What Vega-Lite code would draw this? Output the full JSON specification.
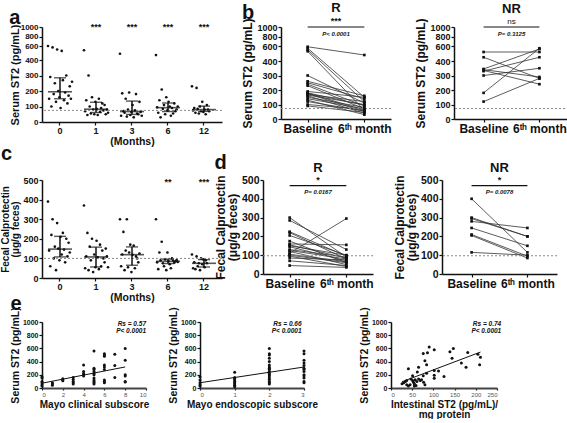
{
"$schema":"https://vega.github.io/schema/vega-lite/v6.json",
"background":"white",
"padding":{"left":0,"top":2,"right":0,"bottom":0},
"config":{"font":"Liberation Sans","view":{"stroke":null},
"axis":{"grid":false,"domainColor":"#111","domainWidth":1.5,"tickColor":"#111","tickWidth":1.2,"tickSize":3,"labelColor":"#111","titleColor":"#111","labelFontWeight":"bold","titleFontWeight":"bold","labelPadding":1,"titlePadding":2},
"title":{"fontWeight":"bold","color":"#111"}},
"datasets":{
"st2":[{"m":0,"v":600},{"m":0,"v":150},{"m":0,"v":290},{"m":0,"v":100},{"m":0,"v":580},{"m":0,"v":180},{"m":0,"v":250},{"m":0,"v":130},{"m":0,"v":550},{"m":0,"v":200},{"m":0,"v":160},{"m":0,"v":90},{"m":0,"v":530},{"m":0,"v":270},{"m":0,"v":140},{"m":0,"v":190},{"m":0,"v":300},{"m":0,"v":120},{"m":0,"v":170},{"m":0,"v":230},{"m":0,"v":150},{"m":0,"v":260},
{"m":1,"v":540},{"m":1,"v":70},{"m":1,"v":140},{"m":1,"v":45},{"m":1,"v":300},{"m":1,"v":100},{"m":1,"v":55},{"m":1,"v":160},{"m":1,"v":80},{"m":1,"v":50},{"m":1,"v":130},{"m":1,"v":85},{"m":1,"v":45},{"m":1,"v":150},{"m":1,"v":65},{"m":1,"v":90},{"m":1,"v":120},{"m":1,"v":75},{"m":1,"v":110},{"m":1,"v":50},{"m":1,"v":80},{"m":1,"v":60},
{"m":3,"v":490},{"m":3,"v":40},{"m":3,"v":185},{"m":3,"v":70},{"m":3,"v":60},{"m":3,"v":150},{"m":3,"v":35},{"m":3,"v":80},{"m":3,"v":190},{"m":3,"v":45},{"m":3,"v":65},{"m":3,"v":110},{"m":3,"v":30},{"m":3,"v":75},{"m":3,"v":180},{"m":3,"v":55},{"m":3,"v":50},{"m":3,"v":130},{"m":3,"v":65},{"m":3,"v":40},
{"m":6,"v":470},{"m":6,"v":95},{"m":6,"v":60},{"m":6,"v":140},{"m":6,"v":30},{"m":6,"v":210},{"m":6,"v":85},{"m":6,"v":110},{"m":6,"v":50},{"m":6,"v":160},{"m":6,"v":75},{"m":6,"v":130},{"m":6,"v":100},{"m":6,"v":40},{"m":6,"v":90},{"m":6,"v":55},{"m":6,"v":120},{"m":6,"v":70},{"m":6,"v":80},{"m":6,"v":100},
{"m":12,"v":230},{"m":12,"v":75},{"m":12,"v":90},{"m":12,"v":60},{"m":12,"v":220},{"m":12,"v":85},{"m":12,"v":55},{"m":12,"v":100},{"m":12,"v":70},{"m":12,"v":130},{"m":12,"v":65},{"m":12,"v":80},{"m":12,"v":50},{"m":12,"v":110},{"m":12,"v":80},{"m":12,"v":70}],
"fc":[{"m":0,"v":390},{"m":0,"v":140},{"m":0,"v":60},{"m":0,"v":220},{"m":0,"v":300},{"m":0,"v":100},{"m":0,"v":160},{"m":0,"v":40},{"m":0,"v":280},{"m":0,"v":150},{"m":0,"v":90},{"m":0,"v":210},{"m":0,"v":120},{"m":0,"v":230},{"m":0,"v":145},{"m":0,"v":80},{"m":0,"v":200},{"m":0,"v":110},{"m":0,"v":180},{"m":0,"v":130},
{"m":1,"v":370},{"m":1,"v":50},{"m":1,"v":110},{"m":1,"v":230},{"m":1,"v":40},{"m":1,"v":160},{"m":1,"v":90},{"m":1,"v":200},{"m":1,"v":30},{"m":1,"v":120},{"m":1,"v":55},{"m":1,"v":190},{"m":1,"v":105},{"m":1,"v":45},{"m":1,"v":170},{"m":1,"v":60},{"m":1,"v":140},{"m":1,"v":100},{"m":1,"v":80},{"m":1,"v":150},{"m":1,"v":110},{"m":1,"v":55},
{"m":3,"v":300},{"m":3,"v":60},{"m":3,"v":120},{"m":3,"v":235},{"m":3,"v":40},{"m":3,"v":140},{"m":3,"v":300},{"m":3,"v":55},{"m":3,"v":130},{"m":3,"v":170},{"m":3,"v":30},{"m":3,"v":118},{"m":3,"v":165},{"m":3,"v":50},{"m":3,"v":110},{"m":3,"v":100},{"m":3,"v":80},{"m":3,"v":125},
{"m":6,"v":300},{"m":6,"v":80},{"m":6,"v":45},{"m":6,"v":130},{"m":6,"v":90},{"m":6,"v":185},{"m":6,"v":75},{"m":6,"v":60},{"m":6,"v":95},{"m":6,"v":40},{"m":6,"v":130},{"m":6,"v":85},{"m":6,"v":70},{"m":6,"v":50},{"m":6,"v":100},{"m":6,"v":88},{"m":6,"v":78},{"m":6,"v":85},{"m":6,"v":92},{"m":6,"v":82},
{"m":12,"v":120},{"m":12,"v":50},{"m":12,"v":80},{"m":12,"v":45},{"m":12,"v":110},{"m":12,"v":60},{"m":12,"v":75},{"m":12,"v":40},{"m":12,"v":100},{"m":12,"v":70},{"m":12,"v":95},{"m":12,"v":55},{"m":12,"v":90},{"m":12,"v":75}],
"st2R":[{"id":1,"Baseline":590,"Month6":480},{"id":2,"Baseline":570,"Month6":150},{"id":3,"Baseline":550,"Month6":120},{"id":4,"Baseline":530,"Month6":60},{"id":5,"Baseline":300,"Month6":110},{"id":6,"Baseline":260,"Month6":160},{"id":7,"Baseline":250,"Month6":140},{"id":8,"Baseline":240,"Month6":90},{"id":9,"Baseline":230,"Month6":70},{"id":10,"Baseline":190,"Month6":150},{"id":11,"Baseline":180,"Month6":60},{"id":12,"Baseline":175,"Month6":50},{"id":13,"Baseline":170,"Month6":120},{"id":14,"Baseline":165,"Month6":100},{"id":15,"Baseline":160,"Month6":40},{"id":16,"Baseline":150,"Month6":80},{"id":17,"Baseline":140,"Month6":70},{"id":18,"Baseline":130,"Month6":30},{"id":19,"Baseline":120,"Month6":55},{"id":20,"Baseline":100,"Month6":65},{"id":21,"Baseline":90,"Month6":45},{"id":22,"Baseline":180,"Month6":95}],
"st2NR":[{"id":1,"Baseline":520,"Month6":520},{"id":2,"Baseline":450,"Month6":280},{"id":3,"Baseline":345,"Month6":560},{"id":4,"Baseline":340,"Month6":290},{"id":5,"Baseline":335,"Month6":240},{"id":6,"Baseline":300,"Month6":350},{"id":7,"Baseline":180,"Month6":570},{"id":8,"Baseline":120,"Month6":280},{"id":9,"Baseline":330,"Month6":450}],
"fcR":[{"id":1,"Baseline":300,"Month6":90},{"id":2,"Baseline":285,"Month6":130},{"id":3,"Baseline":225,"Month6":95},{"id":4,"Baseline":220,"Month6":80},{"id":5,"Baseline":205,"Month6":100},{"id":6,"Baseline":175,"Month6":60},{"id":7,"Baseline":160,"Month6":155},{"id":8,"Baseline":155,"Month6":85},{"id":9,"Baseline":145,"Month6":70},{"id":10,"Baseline":130,"Month6":90},{"id":11,"Baseline":120,"Month6":50},{"id":12,"Baseline":110,"Month6":295},{"id":13,"Baseline":105,"Month6":65},{"id":14,"Baseline":95,"Month6":40},{"id":15,"Baseline":85,"Month6":75},{"id":16,"Baseline":70,"Month6":45},{"id":17,"Baseline":45,"Month6":35},{"id":18,"Baseline":150,"Month6":100},{"id":19,"Baseline":100,"Month6":60},{"id":20,"Baseline":125,"Month6":80}],
"fcNR":[{"id":1,"Baseline":400,"Month6":115},{"id":2,"Baseline":300,"Month6":200},{"id":3,"Baseline":295,"Month6":200},{"id":4,"Baseline":280,"Month6":245},{"id":5,"Baseline":245,"Month6":150},{"id":6,"Baseline":210,"Month6":95},{"id":7,"Baseline":205,"Month6":85},{"id":8,"Baseline":115,"Month6":100}],
"clin":[{"s":0,"v":170},{"s":0,"v":150},{"s":0,"v":100},{"s":0,"v":80},{"s":0,"v":50},{"s":0,"v":30},{"s":1,"v":80},{"s":1,"v":60},{"s":1,"v":40},{"s":2,"v":140},{"s":2,"v":120},{"s":2,"v":110},{"s":3,"v":160},{"s":3,"v":130},{"s":3,"v":100},{"s":3,"v":80},{"s":3,"v":60},{"s":4,"v":350},{"s":4,"v":250},{"s":4,"v":220},{"s":4,"v":200},{"s":4,"v":180},{"s":5,"v":560},{"s":5,"v":300},{"s":5,"v":280},{"s":5,"v":250},{"s":5,"v":220},{"s":5,"v":200},{"s":5,"v":150},{"s":5,"v":120},{"s":5,"v":100},{"s":5,"v":80},{"s":5,"v":60},{"s":6,"v":520},{"s":6,"v":500},{"s":6,"v":480},{"s":6,"v":350},{"s":6,"v":320},{"s":6,"v":280},{"s":6,"v":120},{"s":6,"v":100},{"s":6,"v":80},{"s":7,"v":510},{"s":7,"v":340},{"s":7,"v":160},{"s":8,"v":600},{"s":8,"v":420},{"s":8,"v":200},{"s":8,"v":180},{"s":8,"v":100},{"s":8,"v":90}],
"endo":[{"s":0,"v":170},{"s":0,"v":120},{"s":0,"v":80},{"s":0,"v":50},{"s":0,"v":30},{"s":1,"v":240},{"s":1,"v":160},{"s":1,"v":140},{"s":1,"v":120},{"s":1,"v":100},{"s":1,"v":80},{"s":1,"v":60},{"s":1,"v":40},{"s":1,"v":20},{"s":2,"v":600},{"s":2,"v":520},{"s":2,"v":500},{"s":2,"v":450},{"s":2,"v":400},{"s":2,"v":350},{"s":2,"v":320},{"s":2,"v":300},{"s":2,"v":280},{"s":2,"v":250},{"s":2,"v":220},{"s":2,"v":200},{"s":2,"v":180},{"s":2,"v":150},{"s":2,"v":130},{"s":2,"v":100},{"s":2,"v":80},{"s":2,"v":60},{"s":3,"v":560},{"s":3,"v":520},{"s":3,"v":420},{"s":3,"v":380},{"s":3,"v":340},{"s":3,"v":300},{"s":3,"v":280},{"s":3,"v":250},{"s":3,"v":200},{"s":3,"v":180},{"s":3,"v":150},{"s":3,"v":100},{"s":3,"v":80}],
"inte":[{"s":90,"v":620},{"s":102,"v":580},{"s":147,"v":597},{"s":139,"v":548},{"s":144,"v":451},{"s":76,"v":524},{"s":86,"v":534},{"s":80,"v":412},{"s":84,"v":354},{"s":181,"v":539},{"s":205,"v":510},{"s":211,"v":466},{"s":166,"v":379},{"s":177,"v":316},{"s":209,"v":354},{"s":41,"v":291},{"s":65,"v":316},{"s":62,"v":243},{"s":84,"v":223},{"s":102,"v":267},{"s":112,"v":257},{"s":102,"v":194},{"s":102,"v":146},{"s":125,"v":175},{"s":76,"v":184},{"s":51,"v":184},{"s":26,"v":63},{"s":30,"v":78},{"s":34,"v":97},{"s":37,"v":112},{"s":41,"v":29},{"s":45,"v":49},{"s":47,"v":136},{"s":51,"v":112},{"s":53,"v":87},{"s":55,"v":63},{"s":57,"v":126},{"s":59,"v":39},{"s":61,"v":97},{"s":65,"v":136},{"s":69,"v":112},{"s":72,"v":126},{"s":77,"v":87},{"s":80,"v":49},{"s":55,"v":29},{"s":37,"v":49}]
},
"spacing":-3,
"vconcat":[
{"hconcat":[
{"title":{"text":"a","anchor":"start","frame":"bounds","fontSize":20,"offset":-6,"dy":-1},
"width":180,"height":95,"data":{"name":"st2"},
"resolve":{"axis":{"x":"independent","y":"independent"}},
"layer":[
{"transform":[{"window":[{"op":"row_number","as":"j"}],"groupby":["m"]}],
"mark":{"type":"circle","size":7,"color":"#111","opacity":1},
"encoding":{"x":{"field":"m","type":"ordinal","scale":{"type":"band","paddingInner":0.3,"paddingOuter":0.15},"axis":{"title":"(Months)","labelAngle":0,"labelFontSize":9,"titleFontSize":10.5,"titlePadding":1}},
"xOffset":{"field":"j","type":"nominal"},
"y":{"field":"v","type":"quantitative","scale":{"domain":[0,400,600,1000],"range":[95,33,19,0],"nice":false,"zero":false},"axis":{"title":"Serum ST2 (pg/mL)","values":[0,100,200,300,400,600,800,1000],"format":"d","labelOverlap":false,"labelFontSize":8,"titleFontSize":11,"titlePadding":0}}}},
{"data":{"values":[{}]},"mark":{"type":"rule","color":"#888","strokeDash":[2,2],"strokeWidth":1},"encoding":{"y":{"datum":75,"axis":null}}},
{"transform":[{"aggregate":[{"op":"median","field":"v","as":"med"},{"op":"q1","field":"v","as":"lo"},{"op":"q3","field":"v","as":"hi"}],"groupby":["m"]}],
"layer":[
{"mark":{"type":"rule","strokeWidth":1.5,"color":"#111"},"encoding":{"x":{"field":"m","type":"ordinal","axis":null},"y":{"field":"lo","type":"quantitative","axis":null},"y2":{"field":"hi"}}},
{"mark":{"type":"tick","size":24,"thickness":1.6,"color":"#111"},"encoding":{"x":{"field":"m","type":"ordinal","axis":null},"y":{"field":"med","type":"quantitative","axis":null}}},
{"mark":{"type":"tick","size":12,"thickness":1.4,"color":"#111"},"encoding":{"x":{"field":"m","type":"ordinal","axis":null},"y":{"field":"lo","type":"quantitative","axis":null}}},
{"mark":{"type":"tick","size":12,"thickness":1.4,"color":"#111"},"encoding":{"x":{"field":"m","type":"ordinal","axis":null},"y":{"field":"hi","type":"quantitative","axis":null}}}]},
{"data":{"values":[{"m":1,"s":"***"},{"m":3,"s":"***"},{"m":6,"s":"***"},{"m":12,"s":"***"}]},
"mark":{"type":"text","fontSize":9,"fontWeight":"bold","color":"#111"},
"encoding":{"x":{"field":"m","type":"ordinal","axis":null},"y":{"datum":1000,"axis":null},"text":{"field":"s"}}}
]},
{"title":{"text":"b","anchor":"start","frame":"bounds","fontSize":20,"offset":0,"dy":21},
"spacing":22,
"hconcat":[
{"title":{"text":"R","fontSize":13,"offset":2},"width":110,"height":92,
"resolve":{"axis":{"x":"independent","y":"independent"}},
"layer":[
{"data":{"name":"st2R"},"transform":[{"fold":["Baseline","Month6"],"as":["t","v"]}],"mark":{"type":"line","color":"#333","strokeWidth":0.8},
"encoding":{"x":{"field":"t","type":"nominal","scale":{"type":"point","padding":0.47},"axis":{"title":null,"labelAngle":0,"labelFontSize":12,"labelOverlap":false,"labelExpr":"datum.value == 'Month6' ? '6ᵗʰ month' : datum.value"}},
"y":{"field":"v","type":"quantitative","scale":{"domain":[0,400,600,1000],"range":[92,34,19,0],"nice":false,"zero":false},"axis":{"title":"Serum ST2 (pg/mL)","values":[0,100,200,300,400,600,800,1000],"format":"d","labelOverlap":false,"labelFontSize":9,"titleFontSize":12}},
"detail":{"field":"id"}}},
{"data":{"values":[{}]},"mark":{"type":"rule","color":"#888","strokeDash":[2,2],"strokeWidth":1},"encoding":{"y":{"datum":72,"axis":null}}},
{"data":{"name":"st2R"},"transform":[{"fold":["Baseline","Month6"],"as":["t","v"]}],"mark":{"type":"square","size":7,"color":"#111","opacity":1},"encoding":{"x":{"field":"t","type":"nominal","axis":null},"y":{"field":"v","type":"quantitative","axis":null}}},
{"data":{"values":[{}]},"mark":{"type":"rule","strokeWidth":1.2,"color":"#111"},"encoding":{"x":{"datum":"Baseline","axis":null},"x2":{"datum":"Month6"},"y":{"datum":1000,"axis":null}}},
{"data":{"values":[{"s":"***"}]},"mark":{"type":"text","fontSize":9,"fontWeight":"bold","baseline":"bottom","dy":-1,"color":"#111"},"encoding":{"y":{"datum":1000,"axis":null},"text":{"field":"s"}}},
{"data":{"values":[{"s":"P< 0.0001"}]},"mark":{"type":"text","fontSize":6,"fontWeight":"bold","fontStyle":"italic","color":"#111"},"encoding":{"y":{"datum":860,"axis":null},"text":{"field":"s"}}}
]},
{"title":{"text":"NR","fontSize":13,"offset":2},"width":115,"height":92,
"resolve":{"axis":{"x":"independent","y":"independent"}},
"layer":[
{"data":{"name":"st2NR"},"transform":[{"fold":["Baseline","Month6"],"as":["t","v"]}],"mark":{"type":"line","color":"#333","strokeWidth":0.8},
"encoding":{"x":{"field":"t","type":"nominal","scale":{"type":"point","padding":0.53},"axis":{"title":null,"labelAngle":0,"labelFontSize":12,"labelOverlap":false,"labelExpr":"datum.value == 'Month6' ? '6ᵗʰ month' : datum.value"}},
"y":{"field":"v","type":"quantitative","scale":{"domain":[0,400,600,1000],"range":[92,34,19,0],"nice":false,"zero":false},"axis":{"title":"Serum ST2 (pg/mL)","values":[0,100,200,300,400,600,800,1000],"format":"d","labelOverlap":false,"labelFontSize":9,"titleFontSize":12}},
"detail":{"field":"id"}}},
{"data":{"values":[{}]},"mark":{"type":"rule","color":"#888","strokeDash":[2,2],"strokeWidth":1},"encoding":{"y":{"datum":72,"axis":null}}},
{"data":{"name":"st2NR"},"transform":[{"fold":["Baseline","Month6"],"as":["t","v"]}],"mark":{"type":"square","size":7,"color":"#111","opacity":1},"encoding":{"x":{"field":"t","type":"nominal","axis":null},"y":{"field":"v","type":"quantitative","axis":null}}},
{"data":{"values":[{}]},"mark":{"type":"rule","strokeWidth":1.2,"color":"#111"},"encoding":{"x":{"datum":"Baseline","axis":null},"x2":{"datum":"Month6"},"y":{"datum":1000,"axis":null}}},
{"data":{"values":[{"s":"ns"}]},"mark":{"type":"text","fontSize":8,"baseline":"bottom","dy":-1,"color":"#111"},"encoding":{"y":{"datum":1000,"axis":null},"text":{"field":"s"}}},
{"data":{"values":[{"s":"P= 0.3125"}]},"mark":{"type":"text","fontSize":6,"fontWeight":"bold","fontStyle":"italic","color":"#111"},"encoding":{"y":{"datum":860,"axis":null},"text":{"field":"s"}}}
]}
]}
],"spacing":18},
{"spacing":-10,"vconcat":[
{"hconcat":[
{"title":{"text":"c","anchor":"start","frame":"bounds","fontSize":20,"offset":-2,"dy":-14},
"width":180,"height":98,"data":{"name":"fc"},
"resolve":{"axis":{"x":"independent","y":"independent"}},
"layer":[
{"transform":[{"window":[{"op":"row_number","as":"j"}],"groupby":["m"]}],
"mark":{"type":"circle","size":7,"color":"#111","opacity":1},
"encoding":{"x":{"field":"m","type":"ordinal","scale":{"type":"band","paddingInner":0.3,"paddingOuter":0.15},"axis":{"title":"(Months)","labelAngle":0,"labelFontSize":9,"titleFontSize":10.5,"titlePadding":1}},
"xOffset":{"field":"j","type":"nominal"},
"y":{"field":"v","type":"quantitative","scale":{"domain":[0,500],"nice":false},"axis":{"title":["Fecal Calprotectin","(μg/g feces)"],"values":[0,100,200,300,400,500],"labelOverlap":false,"labelFontSize":9,"titleFontSize":10,"titleLineHeight":10}}}},
{"data":{"values":[{}]},"mark":{"type":"rule","color":"#888","strokeDash":[2,2],"strokeWidth":1},"encoding":{"y":{"datum":100,"axis":null}}},
{"transform":[{"aggregate":[{"op":"median","field":"v","as":"med"},{"op":"q1","field":"v","as":"lo"},{"op":"q3","field":"v","as":"hi"}],"groupby":["m"]}],
"layer":[
{"mark":{"type":"rule","strokeWidth":1.5,"color":"#111"},"encoding":{"x":{"field":"m","type":"ordinal","axis":null},"y":{"field":"lo","type":"quantitative","axis":null},"y2":{"field":"hi"}}},
{"mark":{"type":"tick","size":24,"thickness":1.6,"color":"#111"},"encoding":{"x":{"field":"m","type":"ordinal","axis":null},"y":{"field":"med","type":"quantitative","axis":null}}},
{"mark":{"type":"tick","size":12,"thickness":1.4,"color":"#111"},"encoding":{"x":{"field":"m","type":"ordinal","axis":null},"y":{"field":"lo","type":"quantitative","axis":null}}},
{"mark":{"type":"tick","size":12,"thickness":1.4,"color":"#111"},"encoding":{"x":{"field":"m","type":"ordinal","axis":null},"y":{"field":"hi","type":"quantitative","axis":null}}}]},
{"data":{"values":[{"m":6,"s":"**"},{"m":12,"s":"***"}]},
"mark":{"type":"text","fontSize":9,"fontWeight":"bold","color":"#111"},
"encoding":{"x":{"field":"m","type":"ordinal","axis":null},"y":{"datum":490,"axis":null},"text":{"field":"s"}}}
]},
{"title":{"text":"d","anchor":"start","frame":"bounds","fontSize":20,"offset":0,"dy":11},
"spacing":19,
"hconcat":[
{"title":{"text":"R","fontSize":13,"offset":0},"width":110,"height":94,
"resolve":{"axis":{"x":"independent","y":"independent"}},
"layer":[
{"data":{"name":"fcR"},"transform":[{"fold":["Baseline","Month6"],"as":["t","v"]}],"mark":{"type":"line","color":"#333","strokeWidth":0.8},
"encoding":{"x":{"field":"t","type":"nominal","scale":{"type":"point","padding":0.47},"axis":{"title":null,"labelAngle":0,"labelFontSize":12,"labelOverlap":false,"labelExpr":"datum.value == 'Month6' ? '6ᵗʰ month' : datum.value"}},
"y":{"field":"v","type":"quantitative","scale":{"domain":[0,500],"nice":false},"axis":{"title":["Fecal Calprotectin","(μg/g feces)"],"values":[0,100,200,300,400,500],"labelOverlap":false,"labelFontSize":10.5,"titleFontSize":12,"titleLineHeight":12}},
"detail":{"field":"id"}}},
{"data":{"values":[{}]},"mark":{"type":"rule","color":"#888","strokeDash":[2,2],"strokeWidth":1},"encoding":{"y":{"datum":97,"axis":null}}},
{"data":{"name":"fcR"},"transform":[{"fold":["Baseline","Month6"],"as":["t","v"]}],"mark":{"type":"square","size":7,"color":"#111","opacity":1},"encoding":{"x":{"field":"t","type":"nominal","axis":null},"y":{"field":"v","type":"quantitative","axis":null}}},
{"data":{"values":[{}]},"mark":{"type":"rule","strokeWidth":1.2,"color":"#111"},"encoding":{"x":{"datum":"Baseline","axis":null},"x2":{"datum":"Month6"},"y":{"datum":470,"axis":null}}},
{"data":{"values":[{"s":"*"}]},"mark":{"type":"text","fontSize":9,"fontWeight":"bold","baseline":"bottom","dy":-1,"color":"#111"},"encoding":{"y":{"datum":470,"axis":null},"text":{"field":"s"}}},
{"data":{"values":[{"s":"P= 0.0167"}]},"mark":{"type":"text","fontSize":6,"fontWeight":"bold","fontStyle":"italic","color":"#111"},"encoding":{"y":{"datum":435,"axis":null},"text":{"field":"s"}}}
]},
{"title":{"text":"NR","fontSize":13,"offset":0},"width":115,"height":94,
"resolve":{"axis":{"x":"independent","y":"independent"}},
"layer":[
{"data":{"name":"fcNR"},"transform":[{"fold":["Baseline","Month6"],"as":["t","v"]}],"mark":{"type":"line","color":"#333","strokeWidth":0.8},
"encoding":{"x":{"field":"t","type":"nominal","scale":{"type":"point","padding":0.53},"axis":{"title":null,"labelAngle":0,"labelFontSize":12,"labelOverlap":false,"labelExpr":"datum.value == 'Month6' ? '6ᵗʰ month' : datum.value"}},
"y":{"field":"v","type":"quantitative","scale":{"domain":[0,500],"nice":false},"axis":{"title":["Fecal Calprotectin","(μg/g feces)"],"values":[0,100,200,300,400,500],"labelOverlap":false,"labelFontSize":10.5,"titleFontSize":12,"titleLineHeight":12}},
"detail":{"field":"id"}}},
{"data":{"values":[{}]},"mark":{"type":"rule","color":"#888","strokeDash":[2,2],"strokeWidth":1},"encoding":{"y":{"datum":97,"axis":null}}},
{"data":{"name":"fcNR"},"transform":[{"fold":["Baseline","Month6"],"as":["t","v"]}],"mark":{"type":"square","size":7,"color":"#111","opacity":1},"encoding":{"x":{"field":"t","type":"nominal","axis":null},"y":{"field":"v","type":"quantitative","axis":null}}},
{"data":{"values":[{}]},"mark":{"type":"rule","strokeWidth":1.2,"color":"#111"},"encoding":{"x":{"datum":"Baseline","axis":null},"x2":{"datum":"Month6"},"y":{"datum":470,"axis":null}}},
{"data":{"values":[{"s":"*"}]},"mark":{"type":"text","fontSize":9,"fontWeight":"bold","baseline":"bottom","dy":-1,"color":"#111"},"encoding":{"y":{"datum":470,"axis":null},"text":{"field":"s"}}},
{"data":{"values":[{"s":"P= 0.0078"}]},"mark":{"type":"text","fontSize":6,"fontWeight":"bold","fontStyle":"italic","color":"#111"},"encoding":{"y":{"datum":435,"axis":null},"text":{"field":"s"}}}
]}
]}
],"spacing":-9},
{"hconcat":[
{"hconcat":[
{"title":{"text":"e","anchor":"start","frame":"bounds","fontSize":20,"offset":-6,"dy":1},
"width":104,"height":66,"data":{"name":"clin"},
"resolve":{"axis":{"x":"independent","y":"independent"}},
"layer":[
{"mark":{"type":"circle","size":9,"color":"#111","opacity":1},
"encoding":{"x":{"field":"s","type":"quantitative","scale":{"domain":[0,10],"nice":false},"axis":{"title":"Mayo clinical subscore","values":[0,2,4,6,8,10],"labelFontSize":6,"labelFontWeight":"normal","labelColor":"#555","titleFontSize":10,"domainWidth":2,"domainColor":"#444","tickSize":2,"titlePadding":2}},
"y":{"field":"v","type":"quantitative","scale":{"domain":[0,1000],"nice":false},"axis":{"title":"Serum ST2 (pg/mL)","values":[0,200,400,600,800,1000],"format":"d","labelOverlap":false,"labelFontSize":7,"titleFontSize":10.5}}}},
{"transform":[{"regression":"v","on":"s"}],"mark":{"type":"line","color":"#111","strokeWidth":1},"encoding":{"x":{"field":"s","type":"quantitative","axis":null},"y":{"field":"v","type":"quantitative","axis":null}}},
{"data":{"values":[{"t":"Rs = 0.57"}]},"mark":{"type":"text","align":"right","fontSize":6.5,"fontWeight":"bold","fontStyle":"italic","color":"#111"},"encoding":{"x":{"datum":10,"axis":null},"y":{"datum":970,"axis":null},"text":{"field":"t"}}},
{"data":{"values":[{"t":"P< 0.0001"}]},"mark":{"type":"text","align":"right","fontSize":6.5,"fontWeight":"bold","fontStyle":"italic","color":"#111"},"encoding":{"x":{"datum":10,"axis":null},"y":{"datum":870,"axis":null},"text":{"field":"t"}}}
]},
{"title":{"text":" ","anchor":"start","frame":"bounds","fontSize":20,"offset":-6,"dy":1},
"width":104,"height":66,"data":{"name":"endo"},
"resolve":{"axis":{"x":"independent","y":"independent"}},
"layer":[
{"mark":{"type":"circle","size":9,"color":"#111","opacity":1},
"encoding":{"x":{"field":"s","type":"quantitative","scale":{"domain":[0,3],"nice":false},"axis":{"title":"Mayo endoscopic subscore","values":[0,1,2,3],"labelFontSize":6,"labelFontWeight":"normal","labelColor":"#555","titleFontSize":10,"domainWidth":2,"domainColor":"#444","tickSize":2,"titlePadding":2}},
"y":{"field":"v","type":"quantitative","scale":{"domain":[0,1000],"nice":false},"axis":{"title":"Serum ST2 (pg/mL)","values":[0,200,400,600,800,1000],"format":"d","labelOverlap":false,"labelFontSize":7,"titleFontSize":10.5}}}},
{"transform":[{"regression":"v","on":"s"}],"mark":{"type":"line","color":"#111","strokeWidth":1},"encoding":{"x":{"field":"s","type":"quantitative","axis":null},"y":{"field":"v","type":"quantitative","axis":null}}},
{"data":{"values":[{"t":"Rs = 0.66"}]},"mark":{"type":"text","align":"right","fontSize":6.5,"fontWeight":"bold","fontStyle":"italic","color":"#111"},"encoding":{"x":{"datum":2.93,"axis":null},"y":{"datum":970,"axis":null},"text":{"field":"t"}}},
{"data":{"values":[{"t":"P< 0.0001"}]},"mark":{"type":"text","align":"right","fontSize":6.5,"fontWeight":"bold","fontStyle":"italic","color":"#111"},"encoding":{"x":{"datum":2.93,"axis":null},"y":{"datum":870,"axis":null},"text":{"field":"t"}}}
]}
],"spacing":19},
{"title":{"text":" ","anchor":"start","frame":"bounds","fontSize":20,"offset":-6,"dy":1},
"width":106,"height":66,"data":{"name":"inte"},
"resolve":{"axis":{"x":"independent","y":"independent"}},
"layer":[
{"mark":{"type":"circle","size":9,"color":"#111","opacity":1},
"encoding":{"x":{"field":"s","type":"quantitative","scale":{"domain":[0,250],"nice":false},"axis":{"title":["Intestinal ST2 (pg/mL)/","mg protein"],"values":[0,50,100,150,200,250],"labelFontSize":6,"labelFontWeight":"normal","labelColor":"#555","titleFontSize":10,"titleLineHeight":10,"domainWidth":2,"domainColor":"#444","tickSize":2,"titlePadding":2}},
"y":{"field":"v","type":"quantitative","scale":{"domain":[0,1000],"nice":false},"axis":{"title":"Serum ST2 (pg/mL)","values":[0,200,400,600,800,1000],"format":"d","labelOverlap":false,"labelFontSize":7,"titleFontSize":10.5}}}},
{"transform":[{"regression":"v","on":"s"}],"mark":{"type":"line","color":"#111","strokeWidth":1},"encoding":{"x":{"field":"s","type":"quantitative","axis":null},"y":{"field":"v","type":"quantitative","axis":null}}},
{"data":{"values":[{"t":"Rs = 0.74"}]},"mark":{"type":"text","align":"right","fontSize":6.5,"fontWeight":"bold","fontStyle":"italic","color":"#111"},"encoding":{"x":{"datum":260,"axis":null},"y":{"datum":970,"axis":null},"text":{"field":"t"}}},
{"data":{"values":[{"t":"P< 0.0001"}]},"mark":{"type":"text","align":"right","fontSize":6.5,"fontWeight":"bold","fontStyle":"italic","color":"#111"},"encoding":{"x":{"datum":260,"axis":null},"y":{"datum":870,"axis":null},"text":{"field":"t"}}}
]}
],"spacing":41}
]}
]
}
